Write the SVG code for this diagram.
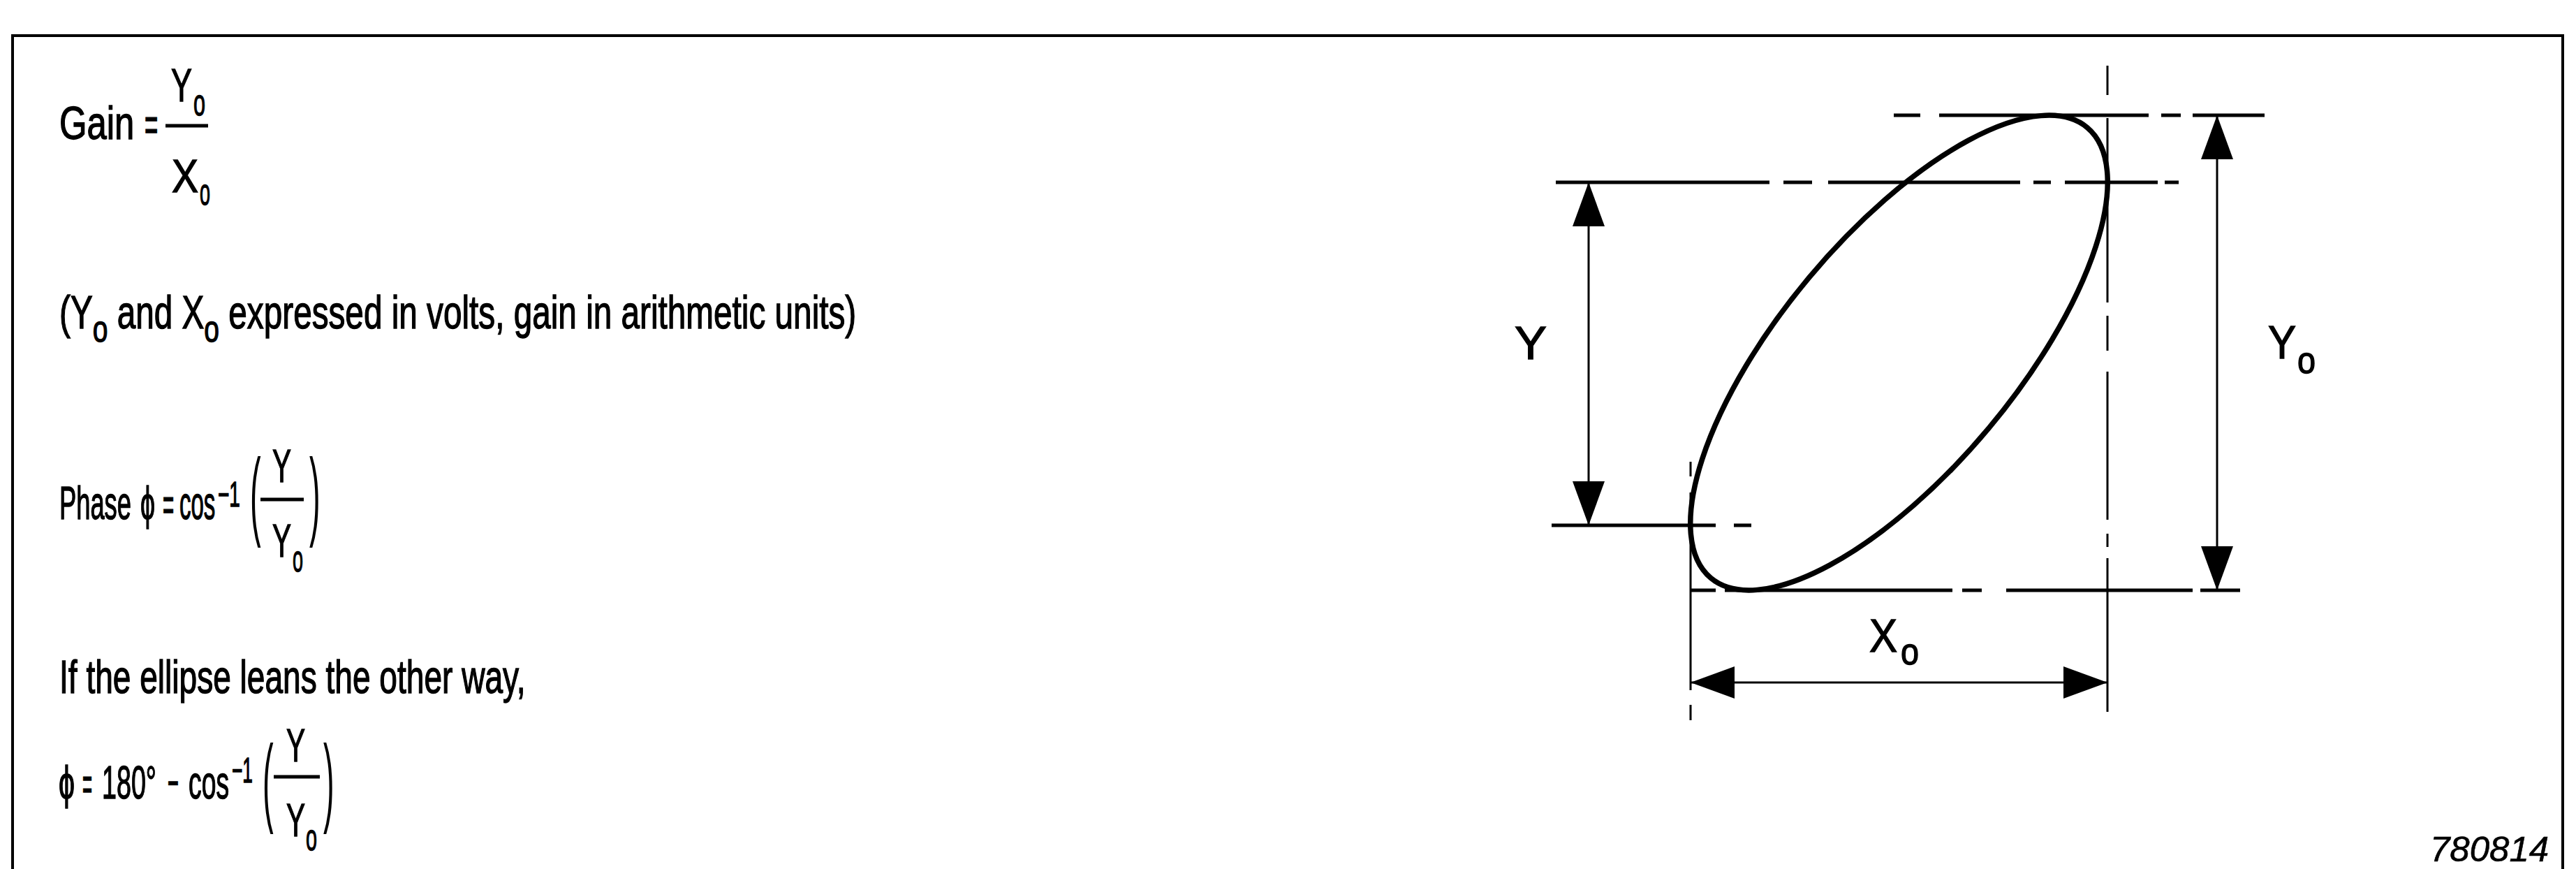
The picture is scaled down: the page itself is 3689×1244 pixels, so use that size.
<svg xmlns="http://www.w3.org/2000/svg" width="3689" height="1244" viewBox="0 0 3689 1244">
  <style>
    .t { font-family: "Liberation Sans", Arial, "DejaVu Sans", sans-serif; font-size: 66px; fill: #000; stroke: #000; stroke-width: 1.4; }
    .s { font-size: 54px; }
    .sup { font-size: 50px; }
    .it { font-style: italic; font-size: 50px; stroke-width: 0.6; }
    .par { font-size: 36px; stroke-width: 0; }
    .ext { fill: none; stroke: #000; stroke-width: 5; }
    .vln { fill: none; stroke: #000; stroke-width: 3; }
    .dim { fill: none; stroke: #000; stroke-width: 3; marker-start: url(#ah); marker-end: url(#ah); }
    .bar { stroke: #000; stroke-width: 5; }
  </style>
  <defs>
    <marker id="ah" viewBox="0 0 63 46" markerWidth="63" markerHeight="46" markerUnits="userSpaceOnUse" refX="63" refY="23" orient="auto-start-reverse">
      <path d="M0,0 L63,23 L0,46 Z" fill="#000"/>
    </marker>
  </defs>
  <rect width="3689" height="1244" fill="#fff"/>

  <g id="frame">
    <path d="M18,1244 V51 H3670 V1244" fill="none" stroke="#000" stroke-width="4"/>
    <text class="t it" transform="translate(3480 1233) scale(1.02 1)">780814</text>
  </g>

  <g id="formulas">
    <g id="gain">
      <text class="t" transform="translate(85 199) scale(0.77 1)">Gain</text>
      <text class="t" transform="translate(207 201) scale(0.5 1)">=</text>
      <line class="bar" x1="237" y1="180" x2="298" y2="180"/>
      <text class="t" transform="translate(245 145) scale(0.68 1)">Y</text>
      <text class="t s" transform="translate(277 165) scale(0.567 1)">o</text>
      <text class="t" transform="translate(246 275) scale(0.864 1)">X</text>
      <text class="t s" transform="translate(286 293) scale(0.5 1)">o</text>
    </g>
    <g id="units">
      <text class="t" transform="translate(85 470) scale(0.723 1)">(Y<tspan class="s" dy="19">o</tspan><tspan dy="-19"> and X</tspan><tspan class="s" dy="19">o</tspan><tspan dy="-19"> expressed in volts, gain in arithmetic units)</tspan></text>
    </g>
    <g id="phase">
      <text class="t" transform="translate(85 743) scale(0.55 1)">Phase</text>
      <text class="t" x="201" y="743" textLength="21" lengthAdjust="spacingAndGlyphs">ϕ</text>
      <text class="t" transform="translate(233 745) scale(0.42 1)">=</text>
      <text class="t" transform="translate(257 743) scale(0.5 1)">cos</text>
      <text class="t sup" transform="translate(312 725) scale(0.56 1)">−1</text>
      <text class="t par" transform="translate(358 755) scale(1.3 3.9)">(</text>
      <line class="bar" x1="373" y1="715" x2="435" y2="715"/>
      <text class="t" transform="translate(390 690) scale(0.614 1)">Y</text>
      <text class="t" transform="translate(390 797) scale(0.614 1)">Y</text>
      <text class="t s" transform="translate(419 818) scale(0.5 1)">o</text>
      <text class="t par" transform="translate(443 755) scale(1.3 3.9)">)</text>
    </g>
    <g id="other-way">
      <text class="t" transform="translate(85 992) scale(0.698 1)">If the ellipse leans the other way,</text>
    </g>
    <g id="phase2">
      <text class="t" x="84" y="1143" textLength="23" lengthAdjust="spacingAndGlyphs">ϕ</text>
      <text class="t" transform="translate(118 1145) scale(0.364 1)">=</text>
      <text class="t" transform="translate(146 1143) scale(0.571 1)">180°</text>
      <text class="t" transform="translate(240 1143) scale(0.415 1)">−</text>
      <text class="t" transform="translate(270 1143) scale(0.565 1)">cos</text>
      <text class="t sup" transform="translate(332 1120) scale(0.526 1)">−1</text>
      <text class="t par" transform="translate(376 1165) scale(1.3 3.9)">(</text>
      <line class="bar" x1="392" y1="1112" x2="458" y2="1112"/>
      <text class="t" transform="translate(410 1090) scale(0.614 1)">Y</text>
      <text class="t" transform="translate(410 1197) scale(0.614 1)">Y</text>
      <text class="t s" transform="translate(438 1217) scale(0.533 1)">o</text>
      <text class="t par" transform="translate(463 1165) scale(1.3 3.9)">)</text>
    </g>
  </g>

  <g id="lissajous">
    <g id="ellipse">
      <ellipse cx="2719.5" cy="505" rx="420.2" ry="167.9" transform="rotate(-50.1 2719.5 505)" fill="none" stroke="#000" stroke-width="7.5"/>
    </g>
    <g id="extension-lines">
      <path class="ext" d="M2712 165H2750 M2777 165H3077 M3095 165H3123 M3140 165H3243"/>
      <path class="ext" d="M2228 261H2534 M2554 261H2595 M2618 261H2893 M2912 261H2937 M2957 261H3090 M3100 261H3120"/>
      <path class="ext" d="M2222 752H2457 M2483 752H2508"/>
      <path class="ext" d="M2421 845H2457 M2470 845H2796 M2810 845H2838 M2873 845H3140 M3151 845H3208"/>
      <path class="vln" d="M3018 94V136 M3018 169V433 M3018 452V502 M3018 532V744 M3018 764V783 M3018 799V1019"/>
      <path class="vln" stroke-width="4" d="M2421 661V682 M2421 705V988 M2421 1009V1031"/>
    </g>
    <g id="connectors">
      <path class="dim" d="M2275 261V752"/>
      <path class="dim" d="M3175 165V845"/>
      <path class="dim" d="M2421 977H3018"/>
    </g>
    <g id="label-Y">
      <text class="t" transform="translate(2169 514) scale(1.045 1)">Y</text>
    </g>
    <g id="label-Yo">
      <text class="t" transform="translate(3248 513) scale(0.91 1)">Y</text>
      <text class="t s" transform="translate(3290 534) scale(0.867 1)">o</text>
    </g>
    <g id="label-Xo">
      <text class="t" transform="translate(2677 933) scale(0.91 1)">X</text>
      <text class="t s" transform="translate(2722 951) scale(0.867 1)">o</text>
    </g>
  </g>
</svg>
